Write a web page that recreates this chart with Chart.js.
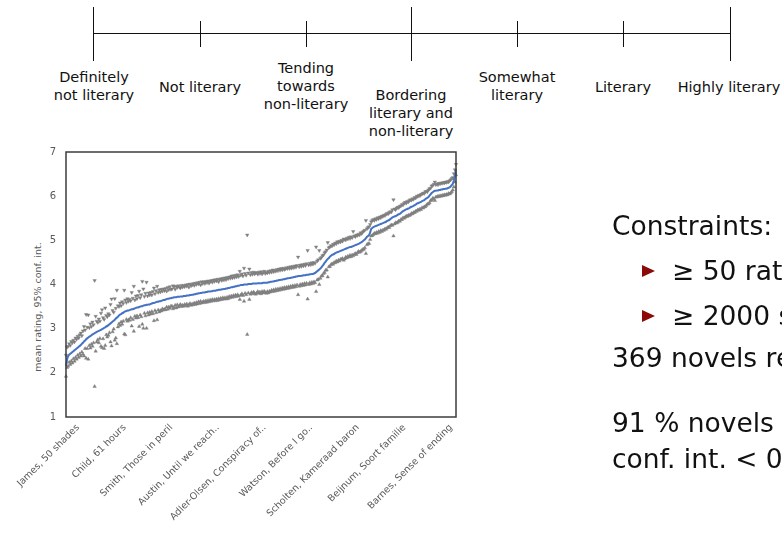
<!DOCTYPE html>
<html>
<head>
<meta charset="utf-8">
<script src="https://cdn.jsdelivr.net/npm/chart.js@4/dist/chart.umd.min.js"></script>
<style>
  html, body { margin: 0; padding: 0; background: #fff; }
  body { width: 782px; height: 536px; overflow: hidden; position: relative; font-family: "DejaVu Sans", sans-serif; color: #111; }
  #chart { position: absolute; left: 0; top: 0; }
  .rule { position: absolute; background: #111; }
  .lab { position: absolute; width: 150px; margin-left: -75px; text-align: center; font-size: 14.5px; line-height: 18px; white-space: nowrap; }
  .txt { position: absolute; left: 612px; font-size: 26.5px; line-height: 26.5px; white-space: nowrap; }
  .bul { position: absolute; left: 642px; width: 0; height: 0; border-top: 6px solid transparent; border-bottom: 6px solid transparent; border-left: 13px solid #8b0a0a; }
  .ytitle { position: absolute; left: 37px; top: 307px; transform: translate(-50%, -50%) rotate(-90deg); font-size: 9.5px; color: #595959; white-space: nowrap; }
</style>
</head>
<body>
<!-- seven-point rating scale -->
<div class="rule" style="left:93px; top:33px; width:637px; height:1px;"></div>
<div class="rule" style="left:93px; top:7px; width:1px; height:54px;"></div>
<div class="rule" style="left:200px; top:21px; width:1px; height:26px;"></div>
<div class="rule" style="left:306px; top:21px; width:1px; height:26px;"></div>
<div class="rule" style="left:411px; top:7px; width:1px; height:54px;"></div>
<div class="rule" style="left:517px; top:21px; width:1px; height:26px;"></div>
<div class="rule" style="left:623px; top:21px; width:1px; height:26px;"></div>
<div class="rule" style="left:730px; top:7px; width:1px; height:54px;"></div>

<div class="lab" style="left:94px; top:68px;">Definitely<br>not literary</div>
<div class="lab" style="left:200px; top:78px;">Not literary</div>
<div class="lab" style="left:306px; top:59px;">Tending<br>towards<br>non-literary</div>
<div class="lab" style="left:411px; top:86px;">Bordering<br>literary and<br>non-literary</div>
<div class="lab" style="left:517px; top:68px;">Somewhat<br>literary</div>
<div class="lab" style="left:623px; top:78px;">Literary</div>
<div class="lab" style="left:729px; top:78px;">Highly literary</div>

<div class="ytitle">mean rating, 95% conf. int.</div>

<canvas id="chart" width="782" height="536"></canvas>

<!-- corpus notes -->
<div class="txt" style="top:213px;">Constraints:</div>
<div class="bul" style="top:265px;"></div>
<div class="txt" style="left:672px; top:258px;">≥ 50 ratings</div>
<div class="bul" style="top:310px;"></div>
<div class="txt" style="left:672px; top:303px;">≥ 2000 sentences</div>
<div class="txt" style="top:345px;">369 novels remain</div>
<div class="txt" style="top:410px;">91 % novels have</div>
<div class="txt" style="top:446px;">conf. int. &lt; 0.5</div>

<script>
// Novels sorted by mean literary rating; every 44th novel is named on the axis.
const labelStep = 44;
const novelTitles = [
  "James, 50 shades", "Child, 61 hours", "Smith, Those in peril",
  "Austin, Until we reach..", "Adler-Olsen, Conspiracy of..", "Watson, Before I go..",
  "Scholten, Kameraad baron", "Beijnum, Soort familie", "Barnes, Sense of ending"
];
const yTicks = [1, 2, 3, 4, 5, 6, 7];

const meanRating = [
  2.15,2.30,2.38,2.41,2.43,2.45,2.47,2.49,2.51,2.53,
  2.55,2.57,2.59,2.61,2.63,2.66,2.68,2.71,2.73,2.76,
  2.78,2.80,2.82,2.83,2.85,2.87,2.88,2.90,2.91,2.93,
  2.94,2.95,2.96,2.97,2.99,3.00,3.02,3.03,3.05,3.06,
  3.08,3.10,3.12,3.14,3.16,3.18,3.20,3.23,3.25,3.27,
  3.30,3.32,3.33,3.35,3.36,3.38,3.39,3.40,3.41,3.41,
  3.42,3.43,3.44,3.44,3.45,3.46,3.47,3.48,3.48,3.49,
  3.50,3.51,3.51,3.52,3.53,3.53,3.54,3.54,3.55,3.55,
  3.56,3.57,3.58,3.58,3.59,3.60,3.61,3.61,3.62,3.62,
  3.63,3.64,3.65,3.65,3.66,3.67,3.68,3.68,3.69,3.69,
  3.70,3.70,3.71,3.71,3.71,3.72,3.72,3.72,3.73,3.73,
  3.73,3.74,3.74,3.74,3.75,3.75,3.75,3.76,3.76,3.77,
  3.77,3.78,3.78,3.79,3.79,3.80,3.80,3.81,3.81,3.82,
  3.82,3.82,3.83,3.83,3.84,3.84,3.84,3.85,3.85,3.86,
  3.86,3.86,3.87,3.87,3.88,3.88,3.88,3.89,3.89,3.90,
  3.90,3.91,3.91,3.92,3.92,3.93,3.94,3.94,3.95,3.95,
  3.96,3.96,3.97,3.97,3.98,3.99,3.99,3.99,4.00,4.00,
  4.00,4.00,4.01,4.01,4.01,4.01,4.02,4.02,4.02,4.02,
  4.02,4.03,4.03,4.03,4.03,4.03,4.04,4.04,4.04,4.04,
  4.04,4.05,4.05,4.06,4.06,4.07,4.07,4.08,4.08,4.09,
  4.09,4.10,4.10,4.11,4.11,4.12,4.12,4.13,4.13,4.14,
  4.14,4.15,4.15,4.16,4.16,4.17,4.17,4.18,4.18,4.19,
  4.19,4.19,4.20,4.20,4.21,4.21,4.21,4.22,4.22,4.22,
  4.23,4.23,4.24,4.24,4.25,4.26,4.28,4.30,4.32,4.34,
  4.36,4.39,4.42,4.45,4.49,4.52,4.55,4.58,4.60,4.63,
  4.65,4.67,4.68,4.69,4.71,4.72,4.73,4.74,4.75,4.76,
  4.77,4.78,4.79,4.80,4.81,4.82,4.83,4.84,4.85,4.85,
  4.86,4.87,4.88,4.89,4.90,4.91,4.92,4.93,4.95,4.96,
  4.98,5.00,5.02,5.05,5.08,5.10,5.12,5.18,5.26,5.28,
  5.30,5.31,5.32,5.33,5.34,5.35,5.36,5.37,5.38,5.39,
  5.40,5.41,5.42,5.44,5.45,5.46,5.48,5.50,5.52,5.53,
  5.54,5.55,5.56,5.58,5.59,5.60,5.62,5.64,5.66,5.67,
  5.69,5.70,5.71,5.72,5.73,5.75,5.76,5.77,5.78,5.80,
  5.81,5.83,5.84,5.85,5.86,5.87,5.89,5.90,5.91,5.93,
  5.95,5.96,5.98,6.01,6.04,6.07,6.09,6.11,6.12,6.12,
  6.13,6.13,6.14,6.14,6.15,6.15,6.16,6.16,6.17,6.17,
  6.18,6.19,6.20,6.22,6.25,6.28,6.36,6.46,6.60
];

const upperBound = [
  2.40,2.58,2.60,2.66,2.62,2.71,2.68,2.74,2.70,2.79,
  2.76,2.83,2.79,2.86,2.90,2.84,2.95,3.05,2.97,3.32,
  3.03,3.31,3.02,3.11,3.05,3.15,3.09,4.09,3.28,3.17,
  3.14,3.22,3.17,3.35,3.43,3.25,3.21,3.47,3.30,3.27,
  3.34,3.31,3.55,3.67,3.41,3.37,3.68,3.46,3.87,3.52,
  3.50,3.58,3.52,3.61,3.57,3.87,3.65,3.59,3.68,3.62,
  3.66,3.63,3.82,3.69,3.96,3.65,3.74,3.68,3.75,3.85,
  3.70,3.77,4.07,3.90,3.73,3.80,4.05,3.74,3.81,3.76,
  3.82,3.76,3.84,3.92,3.79,3.86,3.96,3.82,3.88,3.83,
  3.89,3.85,3.90,3.86,3.91,3.85,3.93,3.88,3.95,3.89,
  3.90,3.97,3.95,3.89,3.96,3.93,3.97,3.94,3.92,3.98,
  3.94,3.98,3.95,3.99,3.96,4.00,3.94,4.01,3.97,3.99,
  4.02,3.98,4.03,4.00,4.04,4.01,4.05,3.99,4.06,4.02,
  4.06,4.02,4.07,4.04,4.08,4.03,4.07,4.09,4.05,4.10,
  4.07,4.11,4.08,4.12,4.06,4.11,4.13,4.09,4.14,4.10,
  4.15,4.11,4.16,4.13,4.17,4.14,4.19,4.15,4.20,4.16,
  4.21,4.17,4.22,4.18,4.30,4.21,4.24,4.19,4.37,4.25,
  4.21,5.12,4.26,4.35,4.22,4.27,4.23,4.28,4.24,4.26,
  4.27,4.23,4.28,4.25,4.29,4.24,4.27,4.30,4.25,4.28,
  4.26,4.30,4.27,4.31,4.28,4.33,4.29,4.32,4.30,4.34,
  4.31,4.35,4.32,4.36,4.33,4.37,4.34,4.35,4.38,4.36,
  4.39,4.36,4.40,4.37,4.41,4.38,4.42,4.39,4.43,4.62,
  4.40,4.44,4.41,4.45,4.42,4.46,4.43,4.47,4.77,4.44,
  4.48,4.45,4.49,4.46,4.50,4.48,4.85,4.53,4.56,4.77,
  4.59,4.61,4.65,4.67,4.72,4.74,4.78,4.95,4.83,4.85,
  4.88,4.87,4.91,4.90,4.94,4.92,4.97,4.95,4.98,4.96,
  5.00,4.98,5.03,5.02,5.01,5.05,5.03,5.07,5.04,5.08,
  5.06,5.20,5.10,5.08,5.12,5.11,5.14,5.12,5.17,5.15,
  5.19,5.21,5.23,5.45,5.26,5.29,5.31,5.36,5.42,5.45,
  5.47,5.45,5.49,5.47,5.51,5.49,5.53,5.51,5.55,5.54,
  5.57,5.56,5.59,5.61,5.60,5.63,5.65,5.64,5.69,5.92,
  5.71,5.69,5.73,5.75,5.74,5.77,5.78,5.81,5.80,5.84,
  5.86,5.84,5.88,5.87,5.90,5.92,5.91,5.94,5.93,5.97,
  5.96,6.00,5.99,6.02,6.01,6.04,6.05,6.07,6.06,6.10,
  6.11,6.10,6.14,6.17,6.18,6.23,6.24,6.27,6.32,6.26,
  6.28,6.26,6.29,6.28,6.30,6.29,6.31,6.30,6.32,6.31,
  6.33,6.32,6.35,6.37,6.40,6.42,6.51,6.60,6.72
];

const lowerBound = [
  1.92,2.12,2.15,2.24,2.19,2.27,2.22,2.32,2.26,2.35,
  2.31,2.40,2.35,2.43,2.38,2.47,2.42,2.38,2.55,2.33,
  2.55,2.31,2.62,2.56,2.65,2.60,2.68,1.69,2.49,2.70,
  2.75,2.68,2.78,2.60,2.57,2.77,2.55,2.62,2.86,2.81,
  2.85,2.91,2.70,2.61,2.93,2.99,2.74,2.79,2.66,3.04,
  3.11,3.07,3.15,3.10,3.17,2.88,2.86,3.21,3.17,3.20,
  3.19,3.25,3.06,3.21,2.94,3.28,3.24,3.29,3.25,3.05,
  3.31,3.27,3.10,3.01,3.35,3.29,3.01,3.36,3.31,3.37,
  3.33,3.39,3.34,3.18,3.41,3.36,3.20,3.42,3.38,3.41,
  3.40,3.45,3.42,3.44,3.43,3.49,3.44,3.49,3.46,3.51,
  3.51,3.45,3.48,3.53,3.47,3.54,3.49,3.52,3.55,3.50,
  3.53,3.51,3.55,3.52,3.56,3.51,3.54,3.57,3.53,3.56,
  3.54,3.58,3.55,3.59,3.56,3.61,3.57,3.62,3.58,3.60,
  3.62,3.59,3.63,3.60,3.64,3.61,3.65,3.62,3.66,3.63,
  3.66,3.63,3.67,3.64,3.68,3.65,3.69,3.66,3.70,3.67,
  3.70,3.67,3.71,3.68,3.73,3.70,3.74,3.71,3.75,3.72,
  3.76,3.73,3.77,3.74,3.66,3.76,3.79,3.75,3.62,3.80,
  3.77,2.87,3.81,3.66,3.78,3.82,3.79,3.83,3.80,3.78,
  3.81,3.84,3.80,3.83,3.79,3.84,3.81,3.85,3.82,3.80,
  3.84,3.81,3.85,3.83,3.87,3.84,3.88,3.85,3.89,3.86,
  3.90,3.87,3.91,3.88,3.92,3.89,3.93,3.90,3.94,3.91,
  3.95,3.92,3.96,3.93,3.97,3.94,3.98,3.95,3.99,3.77,
  3.96,4.00,3.97,4.01,3.98,4.02,3.99,4.03,3.67,4.00,
  4.04,4.01,4.05,4.02,4.06,4.04,3.84,4.10,4.12,4.00,
  4.14,4.19,4.20,4.25,4.27,4.32,4.33,4.17,4.40,4.41,
  4.45,4.47,4.46,4.50,4.49,4.53,4.51,4.55,4.53,4.57,
  4.57,4.59,4.55,4.58,4.62,4.60,4.64,4.62,4.66,4.63,
  4.67,4.65,4.68,4.70,4.68,4.72,4.75,4.73,4.75,4.77,
  4.79,4.80,4.83,4.70,4.90,4.92,4.93,5.02,5.10,5.11,
  5.13,5.16,5.15,5.18,5.16,5.20,5.18,5.22,5.20,5.23,
  5.23,5.26,5.25,5.28,5.30,5.29,5.33,5.35,5.34,5.10,
  5.37,5.40,5.39,5.41,5.44,5.43,5.47,5.47,5.51,5.50,
  5.52,5.55,5.54,5.57,5.56,5.58,5.61,5.60,5.63,5.63,
  5.66,5.66,5.69,5.68,5.71,5.70,5.74,5.73,5.76,5.76,
  5.79,5.82,5.82,5.85,5.90,5.91,5.95,5.95,5.90,5.98,
  5.98,6.00,5.99,6.01,6.00,6.02,6.01,6.03,6.02,6.04,
  6.03,6.06,6.05,6.07,6.10,6.14,6.21,6.32,6.48
];

// one category per novel; only every labelStep-th one carries a name
const categories = meanRating.map((_, i) =>
  i % labelStep === 0 && novelTitles[i / labelStep] ? novelTitles[i / labelStep] : "");

const plotFrame = {
  id: "plotFrame",
  afterDraw(chart) {
    const { ctx, chartArea: a } = chart;
    ctx.save();
    ctx.strokeStyle = "#3c3c3c";
    ctx.lineWidth = 1.5;
    ctx.strokeRect(a.left, a.top, a.right - a.left, a.bottom - a.top);
    ctx.restore();
  }
};

const grey = "#7f7f7f";

new Chart(document.getElementById("chart"), {
  type: "line",
  data: {
    labels: categories,
    datasets: [
      {
        label: "mean rating",
        data: meanRating,
        borderColor: "#4472c4",
        borderWidth: 2,
        pointRadius: 0,
        tension: 0,
        order: 0
      },
      {
        label: "upper bound",
        data: upperBound,
        showLine: false,
        pointStyle: "triangle",
        rotation: 180,
        pointRadius: 2,
        pointBackgroundColor: grey,
        pointBorderColor: grey,
        pointBorderWidth: 0.4,
        order: 1
      },
      {
        label: "lower bound",
        data: lowerBound,
        showLine: false,
        pointStyle: "triangle",
        pointRadius: 2,
        pointBackgroundColor: grey,
        pointBorderColor: grey,
        pointBorderWidth: 0.4,
        order: 2
      }
    ]
  },
  options: {
    responsive: false,
    animation: false,
    layout: { padding: { left: 0, top: 152, right: 326, bottom: 0 } },
    plugins: { legend: { display: false }, tooltip: { enabled: false } },
    scales: {
      x: {
        type: "category",
        offset: false,
        grid: { display: false, drawTicks: false },
        border: { display: false },
        ticks: {
          autoSkip: false,
          minRotation: 45,
          maxRotation: 45,
          padding: 5,
          labelOffset: 12,
          color: "#595959",
          font: { family: "DejaVu Sans", size: 9.5 }
        },
        afterFit(scale) { scale.height = 119; }
      },
      y: {
        min: 1,
        max: 7,
        grid: { display: false, drawTicks: false },
        border: { display: false },
        afterBuildTicks(scale) { scale.ticks = yTicks.map(v => ({ value: v })); },
        ticks: {
          padding: 10,
          color: "#595959",
          font: { family: "DejaVu Sans", size: 10 }
        },
        afterFit(scale) { scale.width = 66; }
      }
    }
  },
  plugins: [plotFrame]
});
</script>
</body>
</html>
